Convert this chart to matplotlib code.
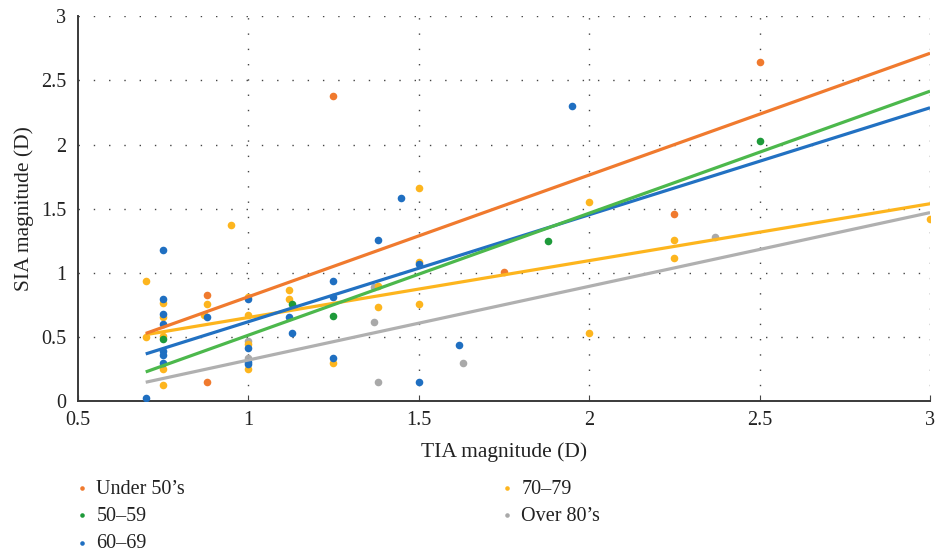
import numpy as np
import matplotlib.pyplot as plt

plt.rcParams['font.family'] = ['Liberation Serif', 'DejaVu Serif']

# age groups
groups = ['Under 50\u2019s', '50\u201359', '60\u201369', '70\u201379', 'Over 80\u2019s']
colors = ['#f07a2e', '#1e9a3a', '#1f6fc1', '#fdb51e', '#a9a9a9']
line_colors = ['#f07a2e', '#4cb84c', '#2271c2', '#fdb51e', '#b0b0b0']

# TIA (x) / SIA (y) values per group
tia_u50 = [0.88, 0.88, 1.25, 1.75, 2.25, 2.5]
sia_u50 = [0.83, 0.15, 2.38, 1.01, 1.46, 2.64]

tia_50s = [0.75, 1.13, 1.25, 1.88, 2.5]
sia_50s = [0.49, 0.76, 0.665, 1.25, 2.03]

tia_60s = [0.7, 0.75, 0.75, 0.75, 0.75, 0.75, 0.75, 0.75, 0.88, 1.0, 1.0, 1.0,
           1.0, 1.12, 1.13, 1.25, 1.25, 1.25, 1.38, 1.45, 1.5, 1.5, 1.62, 1.95]
sia_60s = [0.03, 1.18, 0.80, 0.68, 0.60, 0.39, 0.36, 0.30, 0.655, 0.80, 0.42, 0.31,
           0.29, 0.655, 0.53, 0.94, 0.81, 0.34, 1.26, 1.58, 1.07, 0.155, 0.44, 2.30]

tia_70s = [0.7, 0.7, 0.75, 0.75, 0.75, 0.75, 0.75, 0.87, 0.88, 0.95, 1.0, 1.0,
           1.0, 1.0, 1.12, 1.12, 1.25, 1.38, 1.38, 1.5, 1.5, 1.5, 2.0, 2.0,
           2.25, 2.25, 3.0]
sia_70s = [0.94, 0.50, 0.77, 0.655, 0.51, 0.25, 0.13, 0.67, 0.76, 1.37, 0.81, 0.67,
           0.45, 0.25, 0.87, 0.80, 0.30, 0.90, 0.735, 1.66, 1.085, 0.76, 1.55, 0.53,
           1.26, 1.12, 1.42]

tia_80s = [1.0, 1.0, 1.37, 1.37, 1.38, 1.63, 2.37]
sia_80s = [0.47, 0.34, 0.89, 0.62, 0.155, 0.30, 1.28]

tia_all = [tia_u50, tia_50s, tia_60s, tia_70s, tia_80s]
sia_all = [sia_u50, sia_50s, sia_60s, sia_70s, sia_80s]

# linear trend lines (slope, intercept) as shown on the chart
trend_slope = [0.948, 0.950, 0.833, 0.443, 0.574]
trend_icpt = [-0.134, -0.435, -0.213, 0.210, -0.252]
trend_x = [0.7, 3.0]

fig = plt.figure(figsize=(9.35, 5.54), dpi=100)
ax = fig.add_axes([0.0829, 0.2753, 0.9118, 0.6958])

# draw order: lines on top of points like the original
order = [4, 3, 2, 1, 0]
for i in order:
    ax.scatter(tia_all[i], sia_all[i], s=30, color=colors[i], zorder=3,
               label=groups[i], linewidths=0)
for i in order:
    xx = np.array(trend_x)
    ax.plot(xx, trend_slope[i] * xx + trend_icpt[i], color=line_colors[i],
            lw=2.3, zorder=4, solid_capstyle='butt')

ax.set_xlim(0.5, 3)
ax.set_ylim(0, 3)
ax.set_xticks([0.5, 1, 1.5, 2, 2.5, 3])
ax.set_xticklabels(['0.5', '1', '1.5', '2', '2.5', '3'])
ax.set_yticks([0, 0.5, 1, 1.5, 2, 2.5, 3])
ax.set_yticklabels(['0', '0.5', '1', '1.5', '2', '2.5', '3'])
ax.tick_params(axis='both', labelsize=14.5, colors='#222222', length=0, pad=8)
ax.tick_params(axis='x', direction='in', length=4, color='#444444', pad=7)

for g in [1, 1.5, 2, 2.5, 3]:
    ax.axvline(g, color='#444444', lw=1, ls=(0, (1, 10)), zorder=1)
for g in [0.5, 1, 1.5, 2, 2.5, 3]:
    ax.axhline(g, color='#444444', lw=1, ls=(0, (1, 10)), zorder=1)

for s in ['top', 'right']:
    ax.spines[s].set_visible(False)
for s in ['left', 'bottom']:
    ax.spines[s].set_color('#3a3a3a')
    ax.spines[s].set_linewidth(1.4)

ax.set_xlabel('TIA magnitude (D)', fontsize=15.5, color='#222222', labelpad=9)
ax.set_ylabel('SIA magnitude (D)', fontsize=15.5, color='#222222', labelpad=5)

handles, labels = ax.get_legend_handles_labels()
hmap = dict(zip(labels, handles))
leg = fig.legend([hmap[g] for g in groups], groups, ncol=2, loc='upper left',
                 bbox_to_anchor=(0.0685, 0.149), frameon=False, fontsize=14.5,
                 markerscale=0.6, handletextpad=0.2, columnspacing=15.5,
                 labelspacing=0.4, handlelength=1.0, borderaxespad=0)
for t in leg.get_texts():
    t.set_color('#222222')

fig.savefig('out.png', dpi=100)
